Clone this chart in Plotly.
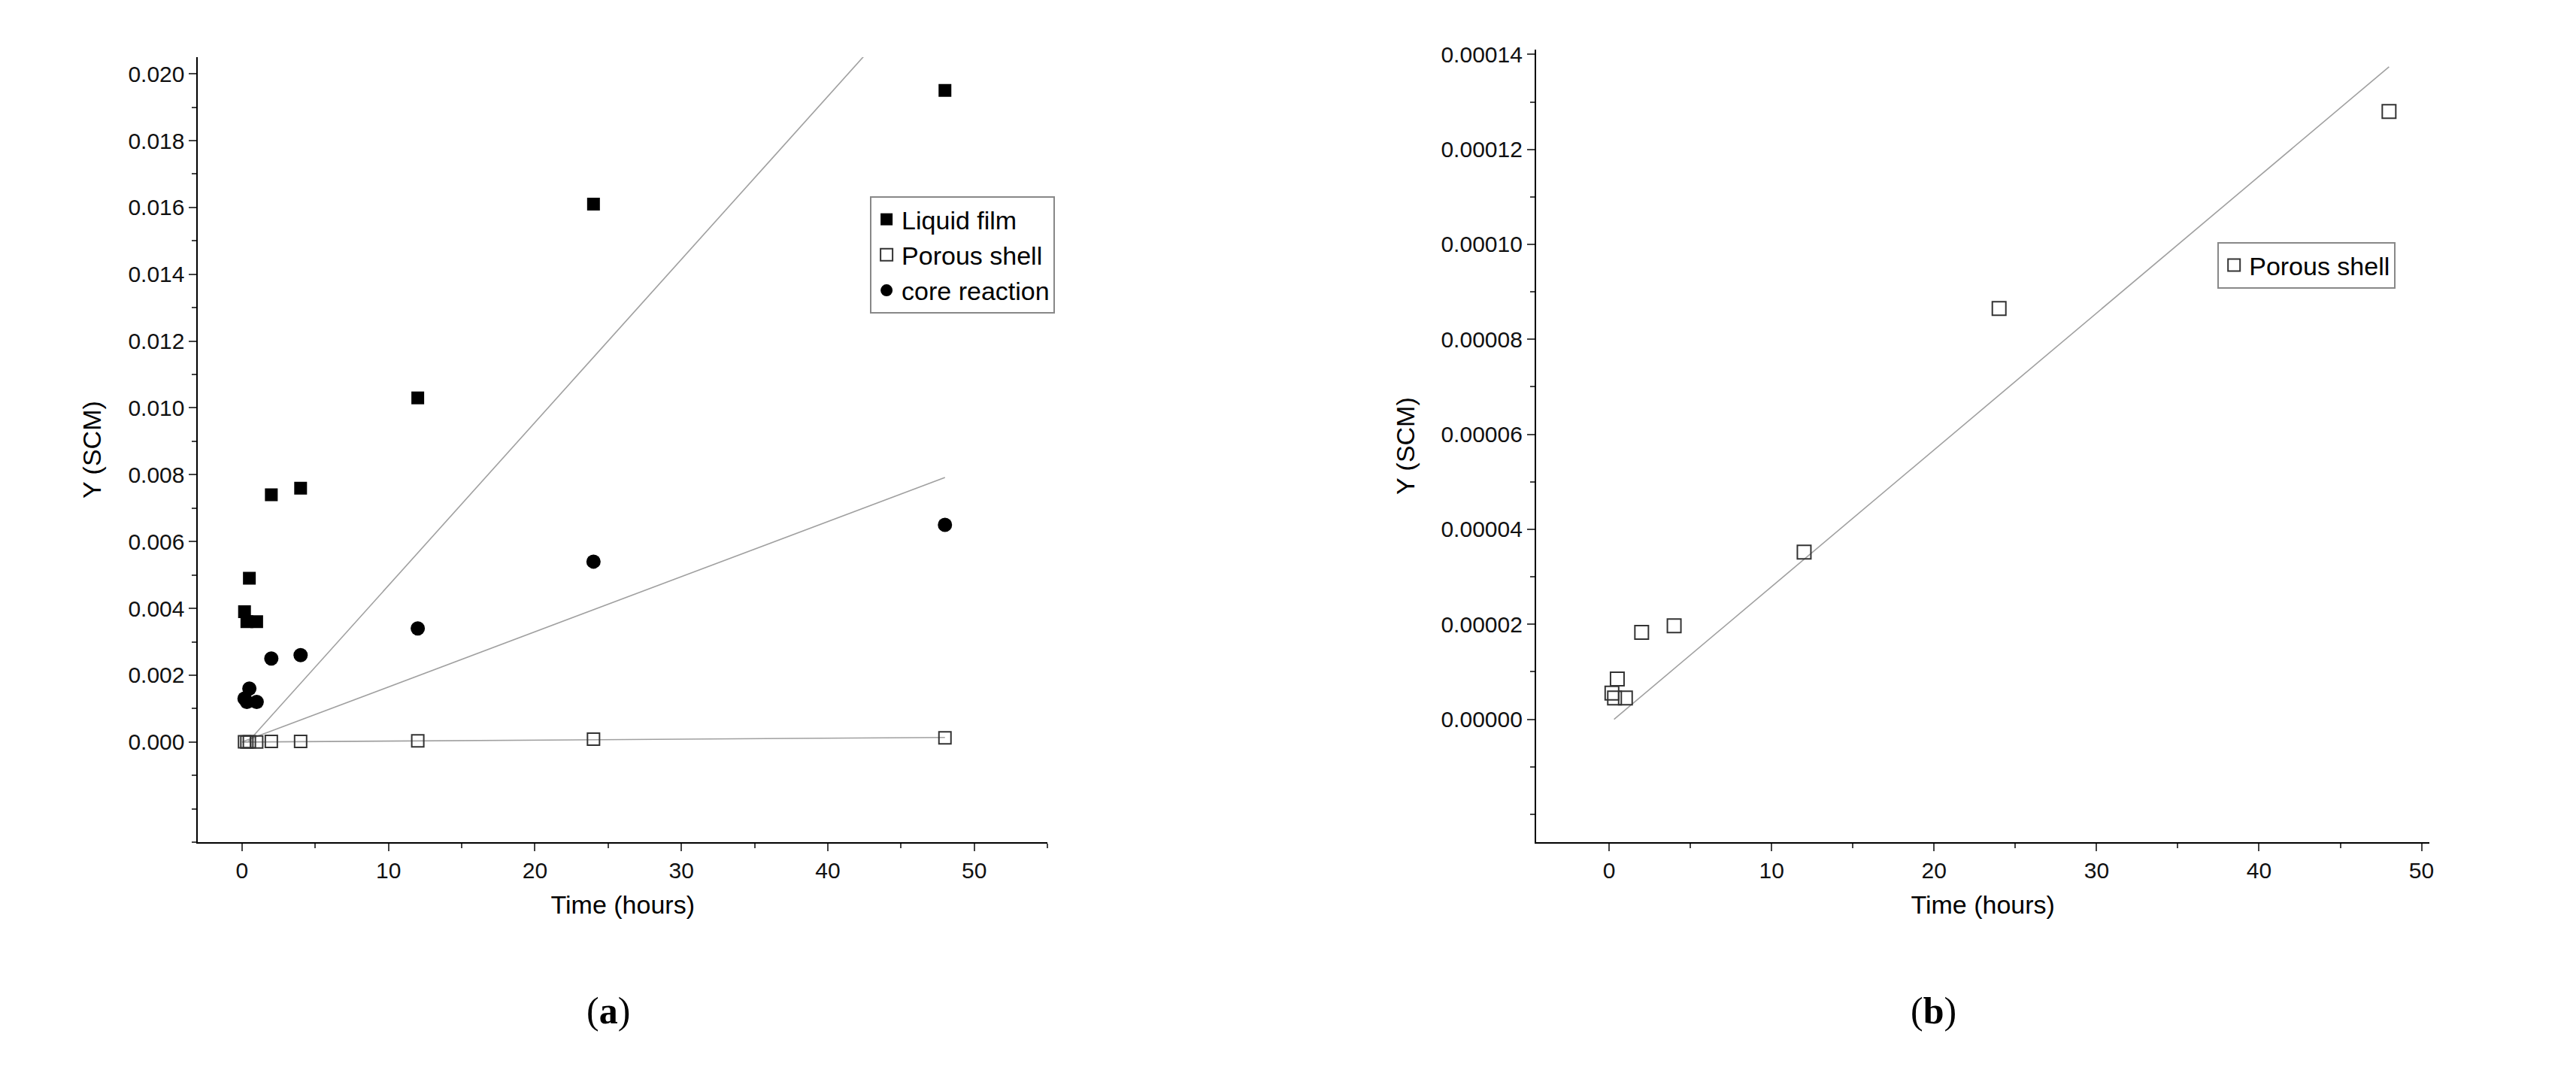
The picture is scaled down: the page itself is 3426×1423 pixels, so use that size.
import numpy as np
import plotly.graph_objects as go

# time points (hours)
time_h = [0.17, 0.33, 0.5, 1, 2, 4, 12, 24, 48]

# panel (a)
liquid_film = [0.0039, 0.0036, 0.0049, 0.0036, 0.0074, 0.0076, 0.0103, 0.0161, 0.0195]
porous_shell = [0.0000055, 0.0000045, 0.0000085, 0.0000045, 0.0000183, 0.0000197, 0.0000352, 0.0000865, 0.000128]
core_reaction = [0.0013, 0.0012, 0.0016, 0.0012, 0.0025, 0.0026, 0.0034, 0.0054, 0.0065]

# fitted slopes (Y per hour), lines through origin
slope_liquid = 0.000488
slope_core = 0.000165
slope_porous = 0.00000288
fit_x = [0, 48]

# tick labels
yticks_a = [0, 0.002, 0.004, 0.006, 0.008, 0.010, 0.012, 0.014, 0.016, 0.018, 0.020]
yticks_b = [0, 0.00002, 0.00004, 0.00006, 0.00008, 0.00010, 0.00012, 0.00014]

font = "Liberation Sans, Arial, sans-serif"
fig = go.Figure()

def line(slope, xa, ya, x0=0.0):
    xs = np.array(fit_x, dtype=float)
    xs[0] = x0
    fig.add_trace(go.Scatter(x=xs, y=slope * (xs - x0), mode="lines", xaxis=xa, yaxis=ya,
                             line=dict(color="#a0a0a0", width=1.6), showlegend=False,
                             hoverinfo="skip"))

line(slope_liquid, "x", "y", 0.4)
line(slope_core, "x", "y")
line(slope_porous, "x", "y")
line(slope_porous, "x2", "y2", 0.3)

fig.add_trace(go.Scatter(x=time_h, y=liquid_film, mode="markers", name="Liquid film",
                         marker=dict(symbol="square", size=17, color="black"), legend="legend"))
fig.add_trace(go.Scatter(x=time_h, y=porous_shell, mode="markers", name="Porous shell",
                         marker=dict(symbol="square-open", size=16, color="#333",
                                     line=dict(width=2)), legend="legend"))
fig.add_trace(go.Scatter(x=time_h, y=core_reaction, mode="markers", name="core reaction",
                         marker=dict(symbol="circle", size=19, color="black"), legend="legend"))
fig.add_trace(go.Scatter(x=time_h, y=porous_shell, mode="markers", name="Porous shell",
                         xaxis="x2", yaxis="y2",
                         marker=dict(symbol="square-open", size=18, color="#333",
                                     line=dict(width=2)), legend="legend2"))

ax = dict(showgrid=False, zeroline=False, showline=True, linecolor="black", linewidth=2,
          ticks="outside", ticklen=10, tickwidth=2, tickcolor="#444",
          minor=dict(ticks="outside", ticklen=6, tickwidth=2, tickcolor="#444"),
          tickfont=dict(family=font, size=30, color="#111"),
          title_font=dict(family=font, size=34, color="black"))

leg = dict(bordercolor="#888", borderwidth=2, bgcolor="white",
           font=dict(family=font, size=34, color="black"), xanchor="left", yanchor="top")

fig.update_layout(
    width=3426, height=1423, paper_bgcolor="white", plot_bgcolor="white",
    margin=dict(l=0, r=0, t=0, b=0),
    xaxis=dict(ax, domain=[0.0747, 0.405], range=[-3, 55], dtick=10,
               minor_dtick=5, title_text="Time (hours)", anchor="y", title_standoff=18),
    yaxis=dict(ax, domain=[0.22, 0.959], range=[-0.003, 0.0205], tickvals=yticks_a,
               minor_dtick=0.001, tickformat=".3f", title_text="Y (SCM)", anchor="x",
               title_standoff=25),
    xaxis2=dict(ax, domain=[0.595, 0.9425], range=[-4.5, 50.5], dtick=10,
                minor_dtick=5, title_text="Time (hours)", anchor="y2", title_standoff=18),
    yaxis2=dict(ax, domain=[0.22, 0.966], range=[-0.0000259, 0.000141], tickvals=yticks_b,
                minor_dtick=0.00001, tickformat=".5f", title_text="Y (SCM)", anchor="x2",
                title_standoff=25),
    legend=dict(leg, x=0.336, y=0.828, tracegroupgap=4),
    legend2=dict(leg, x=0.86, y=0.785),
    annotations=[
        dict(text="(<b>a</b>)", x=0.225, y=0.04, xref="paper", yref="paper", showarrow=False,
             font=dict(family="Liberation Serif, serif", size=50, color="black")),
        dict(text="(<b>b</b>)", x=0.759, y=0.04, xref="paper", yref="paper", showarrow=False,
             font=dict(family="Liberation Serif, serif", size=50, color="black")),
    ],
)

fig.write_html("out.html")
